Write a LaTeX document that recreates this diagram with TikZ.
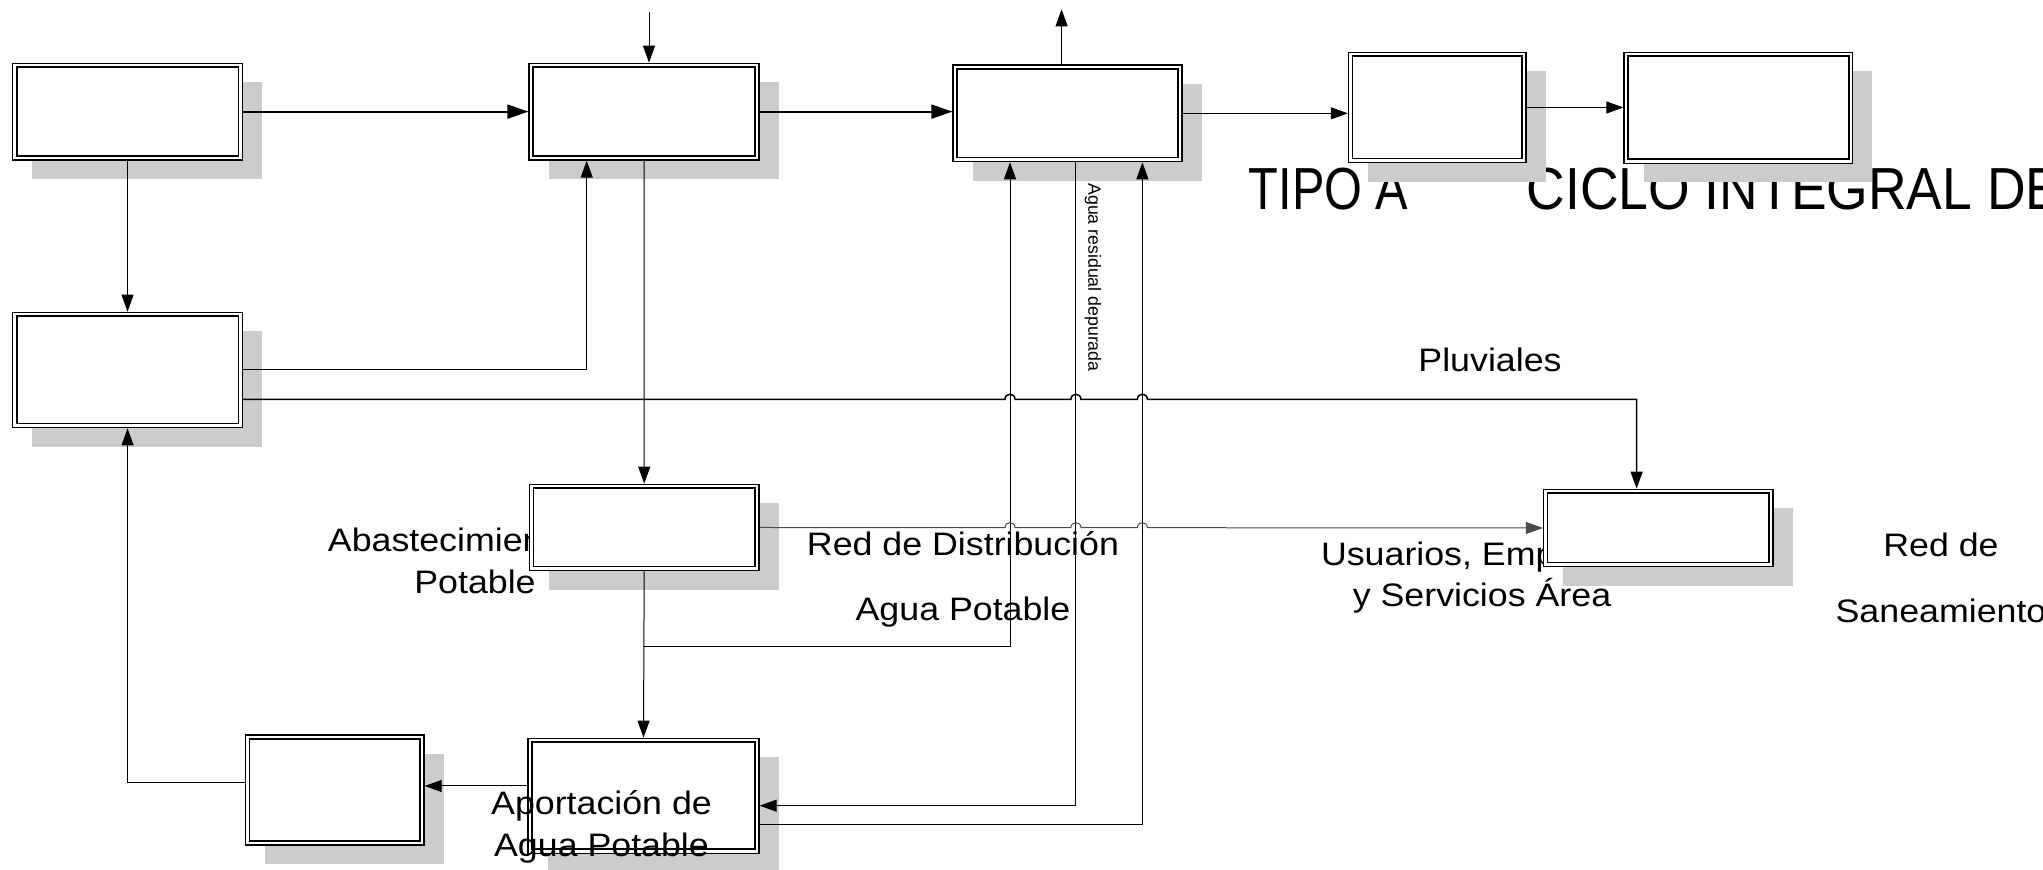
\documentclass[tikz,border=0pt]{standalone}
\usepackage{fontspec}
\setmainfont{Liberation Sans}
\newfontfamily\lblfont[FakeStretch=1.1]{Liberation Sans}
\newfontfamily\ttlfont[FakeStretch=0.82]{Liberation Sans}
\newfontfamily\ciclofont[FakeStretch=0.9]{Liberation Sans}
\usetikzlibrary{arrows.meta,shadows}

\begin{document}
\begin{tikzpicture}[y=-1cm,>={Triangle[length=1.7mm,width=1.2mm]},
    caja/.style={draw,line width=0.013cm,fill=white,inner sep=0pt,
        drop shadow={shadow xshift=1.95mm,shadow yshift=-1.9mm,fill=black!20,opacity=1},
        path picture={\draw[line width=0.016cm] ([xshift=0.4mm,yshift=-0.4mm]path picture bounding box.north west) rectangle ([xshift=-0.4mm,yshift=0.4mm]path picture bounding box.south east);}},
    flujo/.style={line width=0.01cm},
    grueso/.style={line width=0.02cm,-{Triangle[length=2.1mm,width=1.4mm]}},
    etiq/.style={font=\lblfont\fontsize{9.25}{11.8}\selectfont,align=center,inner sep=0pt}]
    \useasboundingbox (0,0) rectangle (20.43,8.70);
    % textos bajo las cajas
    \node[inner sep=0pt,anchor=base west,font=\ttlfont\fontsize{16.9}{19}\selectfont] (tTipo) at (12.48,2.095) {TIPO A};
    \node[inner sep=0pt,anchor=base west,font=\ciclofont\fontsize{16.9}{19}\selectfont] (tCiclo) at (15.26,2.095) {CICLO INTEGRAL DE};
    \node[etiq] (tAbast) at (4.75,5.607) {Abastecimiento de\\Potable};
    \node[etiq] (tUsu) at (14.82,5.777) {Usuarios, Empresas\\y Servicios Área};
    \node[etiq] (tRed) at (9.63,5.793) {Red de Distribución\\[6.5pt]Agua Potable};
    \node[etiq] (tSan) at (19.41,5.78) {Red de\\[7.1pt]Saneamiento};
    \node[etiq,anchor=base] (tPluv) at (14.90,3.717) {Pluviales};
    \node[inner sep=0pt,rotate=-90,font=\fontsize{5.04}{6}\selectfont] (tResid) at (10.93,2.775) {Agua residual depurada};
    % cajas
    \node[caja,minimum width=2.295cm,minimum height=0.967cm] (orig) at (1.2755,1.1165) {};
    \node[caja,minimum width=2.30cm,minimum height=0.967cm] (pot) at (6.44,1.1165) {};
    \node[caja,minimum width=2.29cm,minimum height=0.967cm] (dep) at (10.675,1.1335) {};
    \node[caja,minimum width=1.775cm,minimum height=1.104cm] (tipo) at (14.373,1.075) {};
    \node[caja,minimum width=2.287cm,minimum height=1.11cm] (ciclo) at (17.384,1.078) {};
    \node[caja,minimum width=2.295cm,minimum height=1.154cm] (capt) at (1.2755,3.70) {};
    \node[caja,minimum width=2.297cm,minimum height=0.864cm] (abast) at (6.442,5.275) {};
    \node[caja,minimum width=2.295cm,minimum height=0.774cm] (usu) at (16.583,5.28) {};
    \node[caja,minimum width=2.31cm,minimum height=1.15cm] (aport) at (6.435,7.958) {};
    \node[caja,minimum width=1.784cm,minimum height=1.10cm] (ret) at (3.348,7.90) {};
    % flujos
    \coordinate (entra) at (6.49,0.117);
    \coordinate (sale) at (10.616,0.093);
    \coordinate (ramal) at (6.442,6.467);
    \draw[grueso] (orig.east) -- (pot.west);
    \draw[grueso] (pot.east) -- (pot.east -| dep.west);
    \draw[flujo,->] (dep.east) -- (dep.east -| tipo.west);
    \draw[flujo,->] (tipo.east) -- (tipo.east -| ciclo.west);
    \draw[flujo,->] (entra) -- (entra |- pot.north);
    \draw[flujo,->] (sale |- dep.north) -- (sale);
    \draw[flujo,->] (orig.south) -- (capt.north);
    \draw[flujo,->] (capt.east) -| ([xshift=-5.73mm]pot.south);
    \draw[flujo,->] (pot.south) -- (abast.north);
    \draw[flujo,->] (abast.south) -- (aport.north);
    \draw[flujo,->] (ramal) -| ([xshift=-5.75mm]dep.south);
    \draw[flujo,->] ([xshift=0.84mm]dep.south) |- ([yshift=-0.99mm]aport.east);
    \draw[flujo,->] ([yshift=-2.85mm]aport.east) -| ([xshift=7.49mm]dep.south);
    \draw[flujo,->] ([yshift=0.98mm]aport.west) -- ([yshift=0.98mm]aport.west -| ret.east);
    \draw[flujo,->] ([yshift=0.77mm]ret.west) -| (capt.south);
    \draw[flujo,line width=0.015cm,->] ([yshift=-2.93mm]capt.east) -- (10.05,3.993)
        .. controls +(0,-0.067) and +(0,-0.067) .. (10.15,3.993) -- (10.709,3.993)
        .. controls +(0,-0.067) and +(0,-0.067) .. (10.809,3.993) -- (11.374,3.993)
        .. controls +(0,-0.067) and +(0,-0.067) .. (11.474,3.993) -| ([xshift=-2.17mm]usu.north);
    \draw[flujo,draw=black!70,->] (abast.east) -- (10.05,5.277)
        .. controls +(0,-0.067) and +(0,-0.067) .. (10.15,5.277) -- (10.709,5.277)
        .. controls +(0,-0.067) and +(0,-0.067) .. (10.809,5.277) -- (11.374,5.277)
        .. controls +(0,-0.067) and +(0,-0.067) .. (11.474,5.277) -- (usu.west);
    % texto sobre la caja
    \node[etiq] (tAport) at (6.015,8.271) {Aportación de\\Agua Potable};
\end{tikzpicture}
\end{document}
